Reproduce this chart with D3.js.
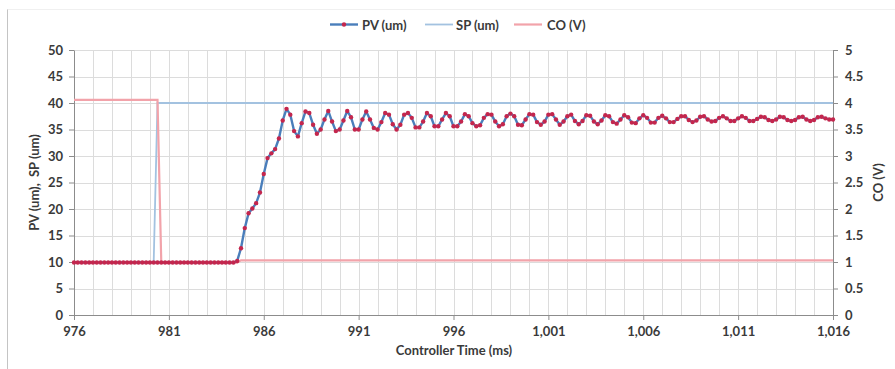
<!DOCTYPE html>
<html>
<head>
<meta charset="utf-8">
<script src="https://cdn.jsdelivr.net/npm/d3@7"></script>
<style>
  html, body { margin: 0; padding: 0; background: #ffffff; }
  svg { display: block; }
  text { font-family: Lato, "Open Sans", "Liberation Sans", sans-serif; }
</style>
</head>
<body>
<svg id="chart" width="895" height="369"></svg>
<script>
// ---------- DATA ----------
const times = [
  976,976.2,976.4,976.6,976.8, 977,977.2,977.4,977.6,977.8,
  978,978.2,978.4,978.6,978.8, 979,979.2,979.4,979.6,979.8,
  980,980.2,980.4,980.6,980.8, 981,981.2,981.4,981.6,981.8,
  982,982.2,982.4,982.6,982.8, 983,983.2,983.4,983.6,983.8,
  984,984.2,984.4,984.6,984.8, 985,985.2,985.4,985.6,985.8,
  986,986.2,986.4,986.6,986.8, 987,987.2,987.4,987.6,987.8,
  988,988.2,988.4,988.6,988.8, 989,989.2,989.4,989.6,989.8,
  990,990.2,990.4,990.6,990.8, 991,991.2,991.4,991.6,991.8,
  992,992.2,992.4,992.6,992.8, 993,993.2,993.4,993.6,993.8,
  994,994.2,994.4,994.6,994.8, 995,995.2,995.4,995.6,995.8,
  996,996.2,996.4,996.6,996.8, 997,997.2,997.4,997.6,997.8,
  998,998.2,998.4,998.6,998.8, 999,999.2,999.4,999.6,999.8,
  1000,1000.2,1000.4,1000.6,1000.8, 1001,1001.2,1001.4,1001.6,1001.8,
  1002,1002.2,1002.4,1002.6,1002.8, 1003,1003.2,1003.4,1003.6,1003.8,
  1004,1004.2,1004.4,1004.6,1004.8, 1005,1005.2,1005.4,1005.6,1005.8,
  1006,1006.2,1006.4,1006.6,1006.8, 1007,1007.2,1007.4,1007.6,1007.8,
  1008,1008.2,1008.4,1008.6,1008.8, 1009,1009.2,1009.4,1009.6,1009.8,
  1010,1010.2,1010.4,1010.6,1010.8, 1011,1011.2,1011.4,1011.6,1011.8,
  1012,1012.2,1012.4,1012.6,1012.8, 1013,1013.2,1013.4,1013.6,1013.8,
  1014,1014.2,1014.4,1014.6,1014.8, 1015,1015.2,1015.4,1015.6,1015.8,
  1016
];

const pvValues = [
  9.9,9.9,9.9,9.9,9.9, 9.9,9.9,9.9,9.9,9.9,
  9.9,9.9,9.9,9.9,9.9, 9.9,9.9,9.9,9.9,9.9,
  9.9,9.9,9.9,9.9,9.9, 9.9,9.9,9.9,9.9,9.9,
  9.9,9.9,9.9,9.9,9.9, 9.9,9.9,9.9,9.9,9.9,
  9.9,9.9,9.9,10.2,12.6, 16.4,19.2,20.1,21.1,23.1,
  26.6,29.6,30.5,31.3,33.3, 36.7,38.9,37.8,34.7,33.7,
  36.2,38.4,38.1,35.9,34.2, 35.0,36.9,38.5,36.5,34.7,
  35.0,36.7,38.5,37.3,35.0, 35.0,36.9,38.4,36.9,35.3,
  35.0,36.4,38.1,37.8,36.0, 35.0,35.9,37.8,38.1,37.2,
  35.4,35.4,36.5,38.1,37.5, 35.6,35.6,36.9,38.1,37.5,
  35.6,35.6,36.5,37.9,37.5, 36.2,35.6,35.8,37.2,37.9,
  37.8,36.5,35.6,36.0,37.5, 38.0,37.5,35.9,35.8,36.9,
  37.9,37.8,36.4,35.9,36.5, 37.8,37.9,36.9,35.9,36.5,
  37.5,37.8,36.6,36.0,36.6, 37.7,37.6,36.5,36.0,36.7,
  37.7,37.5,36.4,36.1,36.9, 37.7,37.3,36.3,36.2,37.1,
  37.7,37.2,36.3,36.3,37.2, 37.6,37.1,36.4,36.4,37.0,
  37.5,37.5,36.8,36.4,36.7, 37.4,37.5,36.9,36.5,36.6,
  37.2,37.5,37.1,36.6,36.6, 37.1,37.5,37.2,36.6,36.6,
  37.0,37.4,37.3,36.8,36.6, 36.9,37.4,37.3,36.8,36.6,
  36.8,37.3,37.4,36.9,36.6, 36.8,37.3,37.4,37.1,36.9,
  36.9
];

const spTimes  = [976, 980.2, 980.4, 1016];
const spValues = [10, 10, 40, 40];

const coTimes  = [976, 980.4, 980.6, 984.6, 984.8, 1016];
const coValues = [4.06, 4.06, 0.99, 0.99, 1.03, 1.03];

const xTicks  = [976, 981, 986, 991, 996, 1001, 1006, 1011, 1016];
const yTicks  = [0, 5, 10, 15, 20, 25, 30, 35, 40, 45, 50];
const y2Ticks = [0, 0.5, 1, 1.5, 2, 2.5, 3, 3.5, 4, 4.5, 5];

const seriesNames = ["PV (um)", "SP (um)", "CO (V)"];
const xTitle = "Controller Time (ms)";
const yTitle = "PV (um),  SP (um)";
const y2Title = "CO (V)";

// ---------- LAYOUT ----------
const L = 74, R = 833, T = 50, B = 315;
const FS = "13px";
const colPV = "#4a7ebb", colMarker = "#c4264d", colSP = "#a3c2e0", colCO = "#f2a3aa";
const grid = "#dcdcdc", axisCol = "#8c8c8c", textCol = "#3a3a3a";

const svg = d3.select("#chart");

// frame
svg.append("line").attr("x1", 7.5).attr("x2", 7.5).attr("y1", 9).attr("y2", 369)
  .attr("stroke", "#c4c4c4").attr("stroke-width", 1);
svg.append("line").attr("x1", 7.5).attr("x2", 895).attr("y1", 9.5).attr("y2", 9.5)
  .attr("stroke", "#f0f0f0").attr("stroke-width", 1);

const x = d3.scaleLinear().domain([976, 1016]).range([L, R]);
const y = d3.scaleLinear().domain([0, 50]).range([B, T]);
const y2 = d3.scaleLinear().domain([0, 5]).range([B, T]);

// gridlines
const gx = d3.range(976, 1017, 1);
svg.append("g").selectAll("line").data(gx).join("line")
  .attr("x1", d => Math.round(x(d)) + 0.5).attr("x2", d => Math.round(x(d)) + 0.5)
  .attr("y1", T).attr("y2", B).attr("stroke", grid).attr("stroke-width", 1);
svg.append("g").selectAll("line").data(yTicks).join("line")
  .attr("x1", L).attr("x2", R)
  .attr("y1", d => Math.round(y(d)) + 0.5).attr("y2", d => Math.round(y(d)) + 0.5)
  .attr("stroke", grid).attr("stroke-width", 1);

// axes
function styleAxis(g) {
  g.selectAll("path.domain").attr("stroke", axisCol);
  g.selectAll(".tick line").attr("stroke", axisCol);
  g.selectAll(".tick text").attr("fill", textCol).style("font-size", FS).style("font-weight", "700")
    .style("font-family", "Lato, 'Open Sans', sans-serif");
}
svg.append("g").attr("transform", `translate(${L},0)`)
  .call(d3.axisLeft(y).tickValues(yTicks).tickSize(5).tickSizeOuter(0).tickPadding(6))
  .call(styleAxis);
svg.append("g").attr("transform", `translate(${R},0)`)
  .call(d3.axisRight(y2).tickValues(y2Ticks).tickSize(5).tickSizeOuter(0).tickPadding(7).tickFormat(d => String(d)))
  .call(styleAxis);
svg.append("g").attr("transform", `translate(0,${B})`)
  .call(d3.axisBottom(x).tickValues(xTicks).tickSize(5).tickSizeOuter(0).tickPadding(7).tickFormat(d3.format(",")))
  .call(styleAxis);

// series
const pvData = times.map((t, i) => ({ t, v: pvValues[i] }));
const spData = spTimes.map((t, i) => ({ t, v: spValues[i] }));
const coData = coTimes.map((t, i) => ({ t, v: coValues[i] }));

svg.append("path").datum(spData)
  .attr("d", d3.line().x(d => x(d.t)).y(d => y(d.v)))
  .attr("fill", "none").attr("stroke", colSP).attr("stroke-width", 1.8);
svg.append("path").datum(coData)
  .attr("d", d3.line().x(d => x(d.t)).y(d => y2(d.v)))
  .attr("fill", "none").attr("stroke", colCO).attr("stroke-width", 2.2);
svg.append("path").datum(pvData)
  .attr("d", d3.line().x(d => x(d.t)).y(d => y(d.v)))
  .attr("fill", "none").attr("stroke", colPV).attr("stroke-width", 2.4).attr("stroke-linejoin", "round");
svg.append("g").selectAll("circle").data(pvData).join("circle")
  .attr("cx", d => x(d.t)).attr("cy", d => y(d.v)).attr("r", 2.2)
  .attr("fill", colMarker);

// legend
const legend = [
  { name: seriesNames[0], x1: 330, x2: 358, tx: 362, col: colPV, w: 2.4, marker: true },
  { name: seriesNames[1], x1: 425, x2: 453, tx: 456, col: colSP, w: 1.8, marker: false },
  { name: seriesNames[2], x1: 514, x2: 542, tx: 547, col: colCO, w: 2.2, marker: false }
];
const lg = svg.append("g");
legend.forEach(d => {
  lg.append("line").attr("x1", d.x1).attr("x2", d.x2).attr("y1", 24.5).attr("y2", 24.5)
    .attr("stroke", d.col).attr("stroke-width", d.w);
  if (d.marker) lg.append("circle").attr("cx", (d.x1 + d.x2) / 2).attr("cy", 24.5).attr("r", 2.2).attr("fill", colMarker);
  lg.append("text").attr("x", d.tx).attr("y", 29.5).text(d.name)
    .attr("fill", textCol).style("font-size", FS).style("font-weight", "700");
});

// titles
svg.append("text").attr("x", 454).attr("y", 355).attr("text-anchor", "middle")
  .text(xTitle).attr("fill", textCol).style("font-size", FS).style("font-weight", "700");
svg.append("text").attr("transform", `translate(39,${(T + B) / 2}) rotate(-90)`).attr("text-anchor", "middle")
  .style("white-space", "pre")
  .text(yTitle).attr("fill", textCol).style("font-size", FS).style("font-weight", "700");
svg.append("text").attr("transform", `translate(883,${(T + B) / 2}) rotate(-90)`).attr("text-anchor", "middle")
  .text(y2Title).attr("fill", textCol).style("font-size", FS).style("font-weight", "700");
</script>
</body>
</html>
